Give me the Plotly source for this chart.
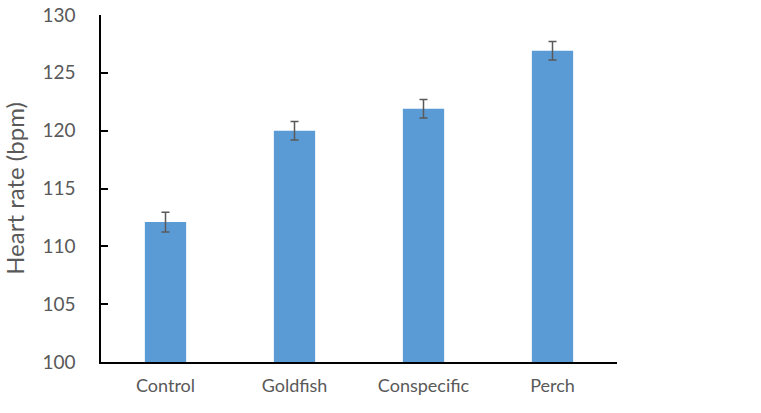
import plotly.graph_objects as go

grupos = ["Control", "Goldfish", "Conspecific", "Perch"]
frequencia = [112.1, 120.0, 121.9, 126.9]
erro = [0.85, 0.8, 0.8, 0.8]

fonte = "Lato"
cinza = "#595959"

fig = go.Figure(
    go.Bar(
        x=grupos,
        y=frequencia,
        marker_color="#5B9BD5",
        marker_line_width=0,
        error_y=dict(type="data", array=erro, color=cinza, thickness=1.5, width=4),
    )
)

fig.update_layout(
    width=761,
    height=413,
    margin=dict(l=101, r=144, t=15, b=51, autoexpand=False),
    paper_bgcolor="white",
    plot_bgcolor="white",
    bargap=0.68,
    showlegend=False,
    font=dict(family=fonte, color=cinza, size=19),
)

fig.update_xaxes(
    showline=True,
    linecolor="black",
    linewidth=1.5,
    ticks="",
    tickfont=dict(size=18, color=cinza),
    ticklabelstandoff=7,
)

fig.update_yaxes(
    range=[100, 130],
    dtick=5,
    showgrid=False,
    zeroline=False,
    showline=True,
    linecolor="black",
    linewidth=1.5,
    ticks="inside",
    ticklen=7,
    tickwidth=1.5,
    tickcolor="black",
    tickfont=dict(size=19, color=cinza),
    ticklabelstandoff=20,
    ticklabeloverflow="allow",
    title=dict(text="Heart rate (bpm)", font=dict(size=24, color=cinza), standoff=18),
)

# tira a margem padrão do body para a figura ocupar a janela toda
fig.write_html(
    "out.html",
    config={"displayModeBar": False},
    post_script="document.body.style.margin='0';",
)
